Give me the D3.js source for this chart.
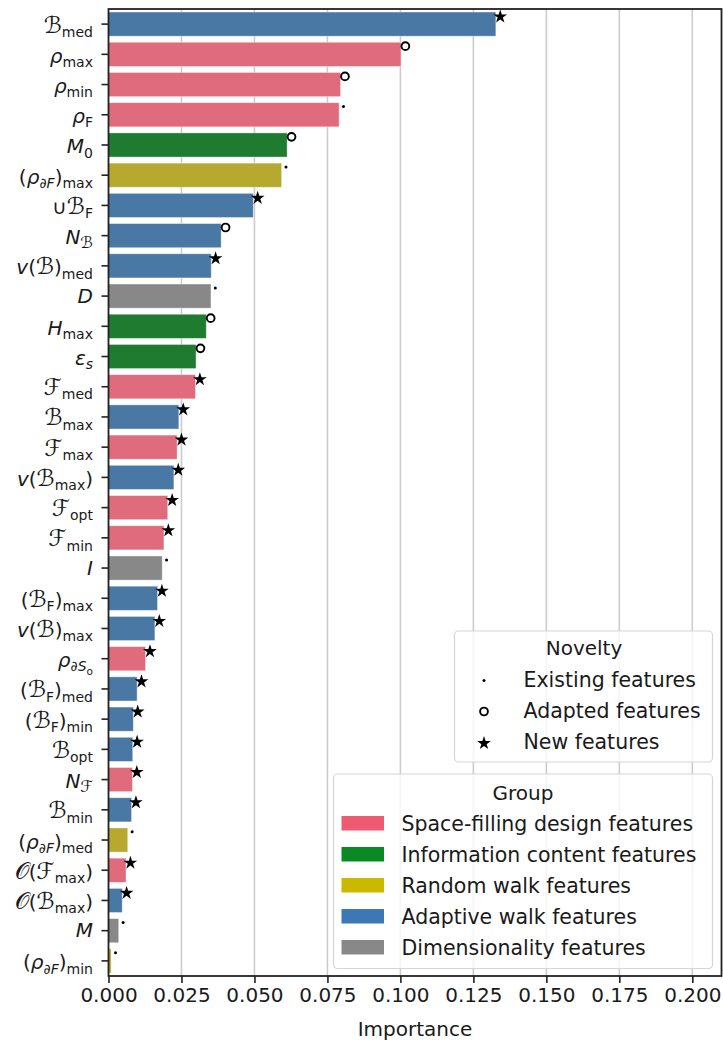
<!DOCTYPE html>
<html>
<head>
<meta charset="utf-8">
<script src="https://cdn.jsdelivr.net/npm/d3@7/dist/d3.min.js"></script>
<style>
  body { margin: 0; background: #fff; }
  text { font-family: "DejaVu Sans", sans-serif; fill: #1a1a1a; }
</style>
</head>
<body>
<svg id="chart" width="723" height="1040"></svg>
<script>
// Feature labels, written as "style:text" tokens joined by "|".
// styles: i = italic, r = upright, c = calligraphic, s = upright subscript,
// si = italic subscript, sc = calligraphic subscript, ss = second-level subscript
const features = [
  "c:B|s:med",
  "i:ρ|s:max",
  "i:ρ|s:min",
  "i:ρ|s:F",
  "i:M|s:0",
  "r:(|i:ρ|si:∂F|r:)|s:max",
  "r:∪|c:B|s:F",
  "i:N|sc:B",
  "i:v|r:(|c:B|r:)|s:med",
  "i:D",
  "i:H|s:max",
  "i:ε|si:s",
  "c:F|s:med",
  "c:B|s:max",
  "c:F|s:max",
  "i:v|r:(|c:B|s:max|r:)",
  "c:F|s:opt",
  "c:F|s:min",
  "i:I",
  "r:(|c:B|s:F|r:)|s:max",
  "i:v|r:(|c:B|r:)|s:max",
  "i:ρ|si:∂S|ss:o",
  "r:(|c:B|s:F|r:)|s:med",
  "r:(|c:B|s:F|r:)|s:min",
  "c:B|s:opt",
  "i:N|sc:F",
  "c:B|s:min",
  "r:(|i:ρ|si:∂F|r:)|s:med",
  "c:O|r:(|c:F|s:max|r:)",
  "c:O|r:(|c:B|s:max|r:)",
  "i:M",
  "r:(|i:ρ|si:∂F|r:)|s:min"
];

const importance = [
  0.1327, 0.1002, 0.0795, 0.0790, 0.0612, 0.0593, 0.0496, 0.0386,
  0.0352, 0.0351, 0.0335, 0.0300, 0.0298, 0.0241, 0.0235, 0.0224,
  0.0203, 0.0190, 0.0184, 0.0168, 0.0159, 0.0127, 0.0098, 0.0085,
  0.0083, 0.0082, 0.0079, 0.0066, 0.0060, 0.0047, 0.0035, 0.0009
];

// group index per feature (see groupNames)
const groups = [
  3, 0, 0, 0, 1, 2, 3, 3,
  3, 4, 1, 1, 0, 3, 0, 3,
  0, 0, 4, 3, 3, 0, 3, 3,
  3, 0, 3, 2, 0, 3, 4, 2
];

// novelty index per feature (see noveltyNames)
const novelty = [
  2, 1, 1, 0, 1, 0, 2, 1,
  2, 0, 1, 1, 2, 2, 2, 2,
  2, 2, 0, 2, 2, 2, 2, 2,
  2, 2, 2, 0, 2, 2, 0, 0
];

const groupNames = [
  "Space-filling design features",
  "Information content features",
  "Random walk features",
  "Adaptive walk features",
  "Dimensionality features"
];
const groupBarColors = ["#e06b7c", "#1e7b30", "#b7a82f", "#4a78a5", "#888888"];
const groupLegendColors = ["#ee5a70", "#0a8a22", "#cdb800", "#3b78b5", "#888888"];

const noveltyNames = ["Existing features", "Adapted features", "New features"];

const xTicks = [0, 0.025, 0.05, 0.075, 0.1, 0.125, 0.15, 0.175, 0.2];
const xTitle = "Importance";
const noveltyTitle = "Novelty";
const groupTitle = "Group";

const svg = d3.select("#chart");
const plot = { left: 108.5, right: 721.5, top: 9, bottom: 976 };

const x = d3.scaleLinear().domain([0, 0.21]).range([plot.left, plot.right]);
const y = d3.scaleBand()
  .domain(d3.range(features.length))
  .range([plot.top, plot.bottom])
  .paddingInner(0.2)
  .paddingOuter(0.1);

// vertical grid
svg.append("g")
  .selectAll("line")
  .data(xTicks.filter(d => d > 0))
  .join("line")
  .attr("x1", d => x(d)).attr("x2", d => x(d))
  .attr("y1", plot.top).attr("y2", plot.bottom)
  .attr("stroke", "#cccccc").attr("stroke-width", 1.6);

// bars
svg.append("g")
  .selectAll("rect")
  .data(importance)
  .join("rect")
  .attr("x", x(0))
  .attr("y", (d, i) => y(i))
  .attr("width", d => x(d) - x(0))
  .attr("height", y.bandwidth())
  .attr("fill", (d, i) => groupBarColors[groups[i]])
  .attr("stroke", "#ffffff").attr("stroke-opacity", 0.5).attr("stroke-width", 0.8);

// novelty markers
const markerDx = 0.0015;
const markerDy = -0.27 * y.step();
function drawMarker(g, kind, cx, cy) {
  if (kind === 0) {
    g.append("circle").attr("cx", cx).attr("cy", cy).attr("r", 1.5).attr("fill", "#000");
  } else if (kind === 1) {
    g.append("circle").attr("cx", cx).attr("cy", cy).attr("r", 3.9)
      .attr("fill", "#fff").attr("stroke", "#000").attr("stroke-width", 1.9);
  } else {
    g.append("path").attr("d", d3.symbol(d3.symbolStar, 58)())
      .attr("transform", `translate(${cx},${cy + 0.8})`).attr("fill", "#000");
  }
}
const markers = svg.append("g");
importance.forEach((v, i) => {
  drawMarker(markers, novelty[i], x(v + markerDx), y(i) + y.bandwidth() / 2 + markerDy);
});

// axes
const xAxis = svg.append("g")
  .attr("transform", `translate(0,${plot.bottom})`)
  .call(d3.axisBottom(x).tickValues(xTicks).tickFormat(d3.format(".3f")).tickSize(7).tickPadding(5));
xAxis.select(".domain").remove();
xAxis.selectAll(".tick line").attr("stroke", "#222").attr("stroke-width", 1.6);
xAxis.selectAll(".tick text").attr("font-size", 20).attr("font-family", "DejaVu Sans").attr("fill", "#1a1a1a");

const yAxis = svg.append("g")
  .attr("transform", `translate(${plot.left},0)`)
  .call(d3.axisLeft(y).tickSize(7).tickFormat(""));
yAxis.select(".domain").remove();
yAxis.selectAll(".tick line").attr("stroke", "#222").attr("stroke-width", 1.6);

// math-like tick labels built from tspans
const calMap = { B: "ℬ", F: "ℱ", O: "𝒪" };
const levelSize = [20, 14, 10.5];
const calScale = 1.15;
const levelShift = [0, 4.2, 7.5];
yAxis.selectAll(".tick").each(function (i) {
  const tokens = features[i].split("|").map(t => {
    const k = t.indexOf(":");
    return { style: t.slice(0, k), text: t.slice(k + 1) };
  });
  const hasSub = tokens.some(t => t.style.startsWith("s"));
  const txt = d3.select(this).select("text")
    .text(null)
    .attr("x", -15.5)
    .attr("dy", null)
    .attr("y", hasSub ? 8.5 : 6.8)
    .attr("text-anchor", "end")
    .attr("font-family", "DejaVu Sans")
    .attr("fill", "#1a1a1a");
  let cur = 0;
  tokens.forEach(tok => {
    const level = tok.style === "ss" ? 2 : tok.style.startsWith("s") ? 1 : 0;
    const kind = tok.style === "ss" ? "s" : tok.style.replace(/^s(?=.)/, "");
    const isCal = kind === "c";
    const body = isCal ? tok.text.split("").map(ch => calMap[ch] || ch).join("") : tok.text;
    const ts = txt.append("tspan")
      .attr("font-size", levelSize[level] * (isCal ? calScale : 1))
      .attr("dy", levelShift[level] - cur)
      .text(body);
    if (kind === "i") ts.attr("font-style", "italic");
    cur = levelShift[level];
  });
});

// frame
svg.append("rect")
  .attr("x", plot.left).attr("y", plot.top)
  .attr("width", plot.right - plot.left).attr("height", plot.bottom - plot.top)
  .attr("fill", "none").attr("stroke", "#222").attr("stroke-width", 1.8);

// x title
svg.append("text")
  .attr("x", (plot.left + plot.right) / 2).attr("y", 1036)
  .attr("text-anchor", "middle").attr("font-size", 20)
  .text(xTitle);

// novelty legend
const nov = svg.append("g");
nov.append("rect")
  .attr("x", 454.5).attr("y", 631).attr("width", 258).attr("height", 131).attr("rx", 4)
  .attr("fill", "#fff").attr("fill-opacity", 0.8).attr("stroke", "#d6d6d6").attr("stroke-width", 1.2);
nov.append("text").attr("x", 584).attr("y", 655).attr("text-anchor", "middle")
  .attr("font-size", 20).text(noveltyTitle);
noveltyNames.forEach((name, k) => {
  const base = 687 + k * 31;
  drawMarker(nov, k, 484, base - 6.5);
  nov.append("text").attr("x", 523.5).attr("y", base).attr("font-size", 20.5).text(name);
});

// group legend
const grp = svg.append("g");
grp.append("rect")
  .attr("x", 333.5).attr("y", 774).attr("width", 379).attr("height", 194.5).attr("rx", 4)
  .attr("fill", "#fff").attr("fill-opacity", 0.8).attr("stroke", "#d6d6d6").attr("stroke-width", 1.2);
grp.append("text").attr("x", 523).attr("y", 800).attr("text-anchor", "middle")
  .attr("font-size", 20).text(groupTitle);
groupNames.forEach((name, k) => {
  const base = 831 + k * 31;
  grp.append("rect").attr("x", 341.5).attr("y", base - 15).attr("width", 42.5).attr("height", 14.5)
    .attr("fill", groupLegendColors[k]);
  grp.append("text").attr("x", 401.5).attr("y", base).attr("font-size", 20.5).text(name);
});
</script>
</body>
</html>
